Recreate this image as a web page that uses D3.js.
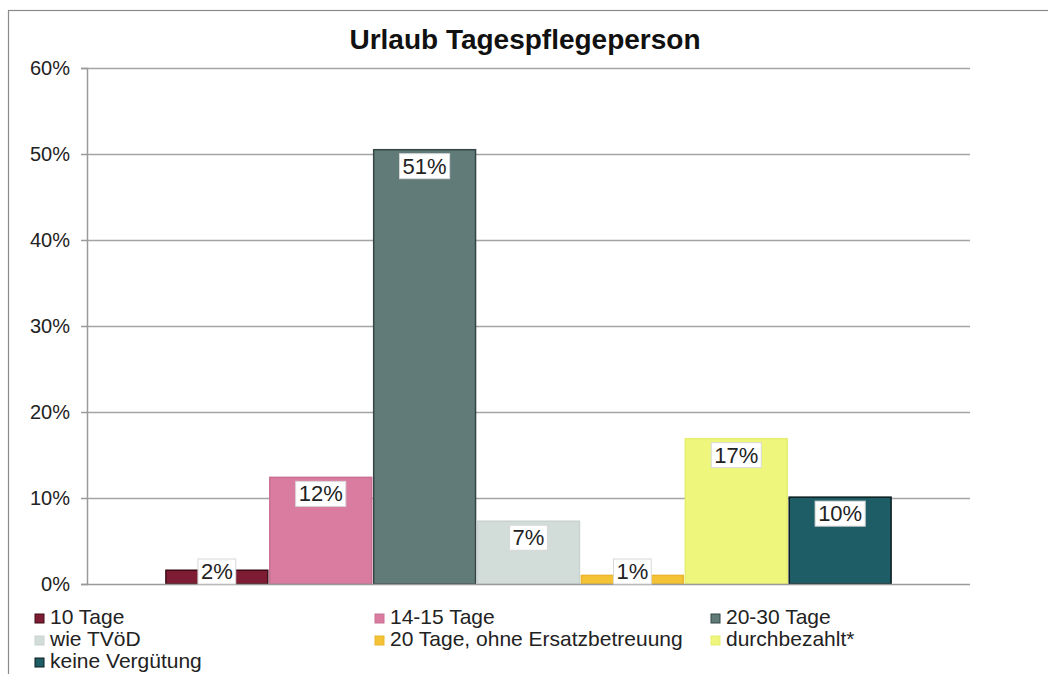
<!DOCTYPE html>
<html>
<head>
<meta charset="utf-8">
<script src="https://cdn.jsdelivr.net/npm/d3@7"></script>
<style>
  body { margin: 0; background: #fff; }
  svg { display: block; font-family: Arial, "Liberation Sans", sans-serif; }
</style>
</head>
<body>
<div id="chart"></div>
<script>
// chart values
var categories = ["10 Tage", "14-15 Tage", "20-30 Tage", "wie TVöD",
                  "20 Tage, ohne Ersatzbetreuung", "durchbezahlt*", "keine Vergütung"];
var values     = [0.016, 0.124, 0.505, 0.073, 0.010, 0.169, 0.101];
var labels     = ["2%", "12%", "51%", "7%", "1%", "17%", "10%"];
var yTicks     = [0, 0.1, 0.2, 0.3, 0.4, 0.5, 0.6];
var colors     = ["#7d1c33", "#d97c9f", "#617b79", "#d2dcd9", "#f4c235", "#eef67b", "#1e5d65"];
var strokes    = ["#3d0c18", "#c97092", "#344644", "#c9d3d0", "#e8b52c", "#e6ee72", "#0a1c1e"];

var W = 1048, H = 674;
var margin = {top: 68, right: 78, bottom: 90, left: 87};
var width  = W - margin.left - margin.right,
    height = H - margin.top - margin.bottom;

var svg = d3.select("#chart").append("svg")
    .attr("width", W)
    .attr("height", H);

// outer chart frame
svg.append("rect")
    .attr("x", 8.5).attr("y", 10.5)
    .attr("width", W + 20).attr("height", H + 20)
    .attr("fill", "none")
    .attr("stroke", "#8a8a8a")
    .attr("stroke-width", 1.2);

svg.append("text")
    .attr("x", 525).attr("y", 49)
    .attr("text-anchor", "middle")
    .style("font-size", "28px")
    .style("font-weight", "bold")
    .style("fill", "#111")
    .text("Urlaub Tagespflegeperson");

var g = svg.append("g")
    .attr("transform", "translate(" + margin.left + "," + margin.top + ")");

var x = d3.scaleBand()
    .domain(categories)
    .range([0, width])
    .paddingInner(0)
    .paddingOuter(0.75);

var y = d3.scaleLinear()
    .domain([0, 0.6])
    .range([height, 0]);

// gridlines
g.append("g")
    .selectAll("line")
    .data(yTicks.slice(1))
    .join("line")
      .attr("x1", 0).attr("x2", width)
      .attr("y1", function(d) { return Math.round(y(d)) + 0.5; })
      .attr("y2", function(d) { return Math.round(y(d)) + 0.5; })
      .attr("stroke", "#a4a4a4")
      .attr("stroke-width", 1.5);

// y axis
var yAxis = g.append("g")
    .call(d3.axisLeft(y).tickValues(yTicks).tickFormat(d3.format(".0%")).tickSize(6).tickPadding(11));
yAxis.select(".domain").attr("stroke", "#9a9a9a").attr("stroke-width", 1.5);
yAxis.selectAll(".tick line").attr("stroke", "#9a9a9a").attr("stroke-width", 1.5);
yAxis.selectAll(".tick text")
    .style("font-size", "20px")
    .style("fill", "#222")
    .attr("font-family", null);

// bars
g.append("g")
    .selectAll("rect")
    .data(categories)
    .join("rect")
      .attr("x", function(d) { return x(d) + 1; })
      .attr("width", x.bandwidth() - 2)
      .attr("y", function(d, i) { return y(values[i]); })
      .attr("height", function(d, i) { return height - y(values[i]); })
      .attr("fill", function(d, i) { return colors[i]; })
      .attr("stroke", function(d, i) { return strokes[i]; })
      .attr("stroke-width", 1.5);

// x axis baseline
g.append("line")
    .attr("x1", 0).attr("x2", width)
    .attr("y1", height + 0.5).attr("y2", height + 0.5)
    .attr("stroke", "#9a9a9a")
    .attr("stroke-width", 1.5);

// data labels in white boxes, inside the top of each bar
var lab = g.append("g")
    .selectAll("g")
    .data(categories)
    .join("g")
      .attr("transform", function(d, i) {
        var top = Math.min(y(values[i]) + 4, height - 25);
        return "translate(" + (x(d) + x.bandwidth() / 2) + "," + top + ")";
      });

lab.append("text")
    .attr("text-anchor", "middle")
    .attr("y", 20)
    .style("font-size", "22px")
    .style("fill", "#222")
    .text(function(d, i) { return labels[i]; });

lab.insert("rect", "text")
    .each(function() {
      var bb = this.parentNode.querySelector("text").getBBox();
      d3.select(this)
        .attr("x", bb.x - 3).attr("y", 0)
        .attr("width", bb.width + 6).attr("height", 25);
    })
    .attr("fill", "#fff")
    .attr("stroke", "#d8d8d8")
    .attr("stroke-width", 1);

// legend, three columns
var legCols = [35, 375, 711];
var leg = svg.append("g")
    .selectAll("g")
    .data(categories)
    .join("g")
      .attr("transform", function(d, i) {
        return "translate(" + legCols[i % 3] + "," + (624 + Math.floor(i / 3) * 22) + ")";
      });

leg.append("rect")
    .attr("x", 0).attr("y", -10)
    .attr("width", 9).attr("height", 9)
    .attr("fill", function(d, i) { return colors[i]; })
    .attr("stroke", function(d, i) { return strokes[i]; });

leg.append("text")
    .attr("x", 15)
    .style("font-size", "21px")
    .style("fill", "#222")
    .text(function(d) { return d; });
</script>
</body>
</html>
